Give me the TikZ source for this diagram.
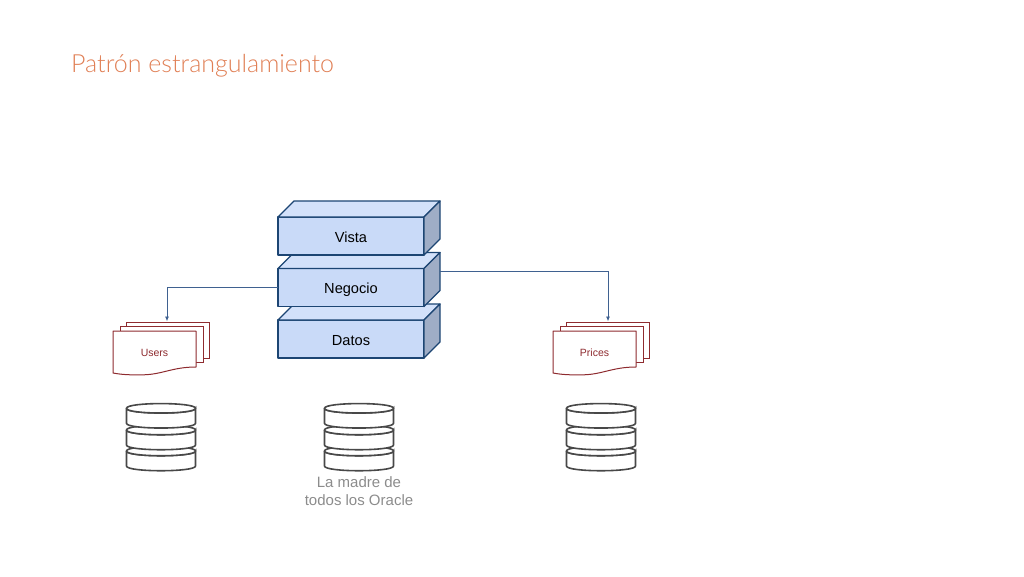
\documentclass[tikz,border=0pt]{standalone}
\usepackage{fontspec}
\setmainfont{Liberation Sans}
\newfontfamily\titlefont{Lato Light}
\usetikzlibrary{arrows.meta,positioning}
\definecolor{layerline}{HTML}{1C4573}
\definecolor{layerfill}{HTML}{C9DAF8}
\definecolor{layertopfill}{HTML}{D3E1FA}
\definecolor{layerside}{HTML}{9FADC6}
\definecolor{linkblue}{HTML}{3F6190}
\definecolor{docred}{HTML}{8E2B2F}
\definecolor{dbline}{HTML}{484848}
\definecolor{titleorange}{HTML}{E07F55}
\definecolor{notegray}{HTML}{8C8C8C}
\newcommand{\docsheet}[4]{% left, top, right, bottom
  \draw[docline] (#1,#2) rectangle (#3,#4);}
\newcommand{\docfront}[1]{% left of the front sheet
  \draw[docline,line join=round] (#1,331) -- (#1+83,331) -- (#1+83,367)
    .. controls (#1+58,367) and (#1+48,375.5) .. (#1+26,374.8)
    .. controls (#1+16,375) and (#1+8,374.5) .. (#1,373) -- cycle;}
\newcommand{\dbdisk}[2]{% centre x, top y
  \draw[dbshape] (#1-34.5,#2) -- (#1-34.5,#2+15)
    .. controls (#1-34.5,#2+21.3) and (#1+34.5,#2+21.3) .. (#1+34.5,#2+15)
    -- (#1+34.5,#2)
    .. controls (#1+34.5,#2+6.3) and (#1-34.5,#2+6.3) .. (#1-34.5,#2);
  \draw[dbshape] (#1-34.5,#2)
    .. controls (#1-34.5,#2-6.3) and (#1+34.5,#2-6.3) .. (#1+34.5,#2)
    .. controls (#1+34.5,#2+6.3) and (#1-34.5,#2+6.3) .. (#1-34.5,#2) -- cycle;}
\begin{document}
\begin{tikzpicture}[
  x=1pt, y=-1pt,
  font=\fontsize{14.6}{17}\selectfont,
  layer/.style={draw=layerline, line width=1.3pt, fill=layerfill, outer sep=0pt, inner sep=0pt,
  minimum width=146pt, minimum height=38pt, line join=round},
  layertop/.style={draw=layerline, line width=1.3pt, fill=layertopfill, line join=round},
  layerright/.style={draw=layerline, line width=1.3pt, fill=layerside, line join=round},
  link/.style={-{Latex[length=5pt,width=4pt]}, draw=linkblue, line width=.9pt},
  docline/.style={draw=docred, fill=white, line width=1pt},
  doclabel/.style={text=docred, font=\fontsize{10.5}{12}\selectfont, inner sep=0pt},
  dbshape/.style={draw=dbline, fill=white, line width=1.6pt}]
\useasboundingbox (0,0) rectangle (1024,576);
\node[anchor=base west, inner sep=0pt, text=titleorange, font=\titlefont\fontsize{25}{30}\selectfont]
  (heading) at (71,72) {Patrón estrangulamiento};
% documents
\docsheet{126}{322}{209}{358}
\docsheet{120}{326}{203}{362}
\docfront{113}
\node[doclabel] (users) at (154.5,352.5) {Users};
\docsheet{566}{322}{649}{358}
\docsheet{560}{326}{643}{362}
\docfront{553}
\node[doclabel] (prices) at (594.5,352.5) {Prices};
\coordinate (usersin) at (167,321.5);
\coordinate (pricesin) at (608,321.5);
% stack
\foreach \name/\ypos/\txt in {datos/339/Datos,negocio/287.5/Negocio,vista/236/Vista}{
  \node[layer] (\name) at (351,\ypos) {};
  \draw[layertop] (\name.north west) -- ++(16,-16) -- ++(146,0) -- (\name.north east) -- cycle;
  \draw[layerright] (\name.north east) -- ++(16,-16) -- ++(0,38) -- (\name.south east) -- cycle;
  \node[inner sep=0pt, anchor=base] (\name text) at (351,\ypos+6) {\txt};
}
\coordinate (negocioside) at ([shift={(16,-16)}]negocio.east);
\draw[link] (negocio.west) -| (usersin);
\draw[link] (negocioside) -| (pricesin);
% databases
\foreach \xpos in {161,359,601}{
  \dbdisk{\xpos}{451}
  \dbdisk{\xpos}{430}
  \dbdisk{\xpos}{408.3}
}
\node[align=center, text=notegray, font=\fontsize{15}{18}\selectfont, inner sep=0pt]
  (oracle) at (359,491) {La madre de\\todos los Oracle};
\end{tikzpicture}
\end{document}
